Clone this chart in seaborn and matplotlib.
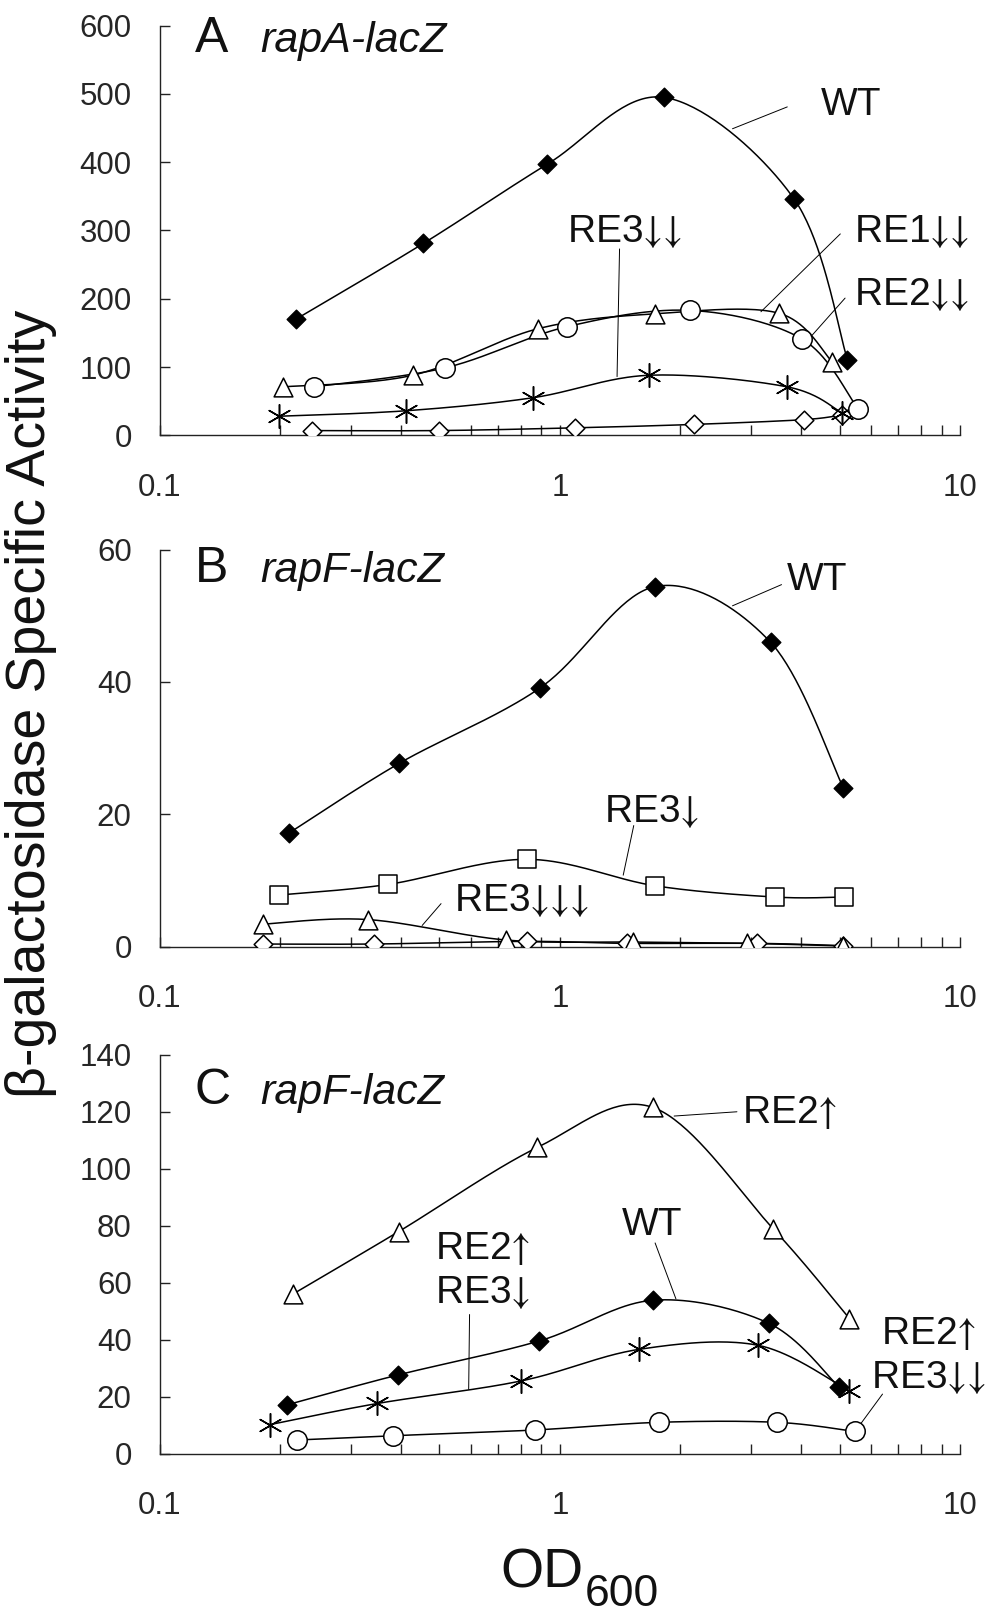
import numpy as np
import matplotlib
matplotlib.use("Agg")
import matplotlib.pyplot as plt
import seaborn as sns

sns.set_theme(style="white")
plt.rcParams["font.family"] = ["Liberation Sans", "DejaVu Sans"]
plt.rcParams["mathtext.fontset"] = "stix"

# ---------------- data ----------------
# Panel A: rapA-lacZ
A_wt_x = [0.219, 0.456, 0.93, 1.82, 3.85, 5.23]
A_wt_y = [170, 281, 397, 495, 346, 111]
A_re1_x = [0.204, 0.429, 0.88, 1.73, 3.52, 4.79]
A_re1_y = [71, 88, 156, 178, 179, 108]
A_re2_x = [0.243, 0.518, 1.04, 2.12, 4.03, 5.55]
A_re2_y = [71, 99, 159, 183, 141, 39]
A_re3_x = [0.199, 0.413, 0.855, 1.67, 3.70, 5.07]
A_re3_y = [28, 36, 55, 88, 71, 33]
A_ctl_x = [0.240, 0.499, 1.09, 2.16, 4.07, 5.07]
A_ctl_y = [7, 7, 11, 16, 23, 30]

# Panel B: rapF-lacZ
B_wt_x = [0.211, 0.397, 0.893, 1.73, 3.36, 5.11]
B_wt_y = [17.2, 27.7, 39.1, 54.4, 46.0, 24.0]
B_re3_x = [0.199, 0.372, 0.828, 1.73, 3.44, 5.13]
B_re3_y = [7.8, 9.4, 13.2, 9.2, 7.5, 7.5]
B_re3c_x = [0.181, 0.331, 0.735, 1.52, 2.94, 5.10]
B_re3c_y = [3.4, 4.1, 1.0, 0.7, 0.5, 0.1]
B_ctl_x = [0.181, 0.343, 0.827, 1.47, 3.11, 5.10]
B_ctl_y = [0.4, 0.4, 0.8, 0.5, 0.5, 0.15]

# Panel C: rapF-lacZ
C_re2_x = [0.215, 0.396, 0.879, 1.71, 3.41, 5.29]
C_re2_y = [56, 78, 107.5, 121.5, 79, 47.5]
C_wt_x = [0.208, 0.394, 0.887, 1.71, 3.33, 4.98]
C_wt_y = [17.2, 27.7, 39.6, 53.9, 45.8, 23.5]
C_r23_x = [0.189, 0.350, 0.800, 1.58, 3.13, 5.29]
C_r23_y = [10.3, 17.7, 25.6, 36.7, 38.1, 22.1]
C_r233_x = [0.221, 0.384, 0.865, 1.77, 3.48, 5.46]
C_r233_y = [4.9, 6.4, 8.4, 11.1, 11.1, 7.9]

x_major = [0.1, 1, 10]
x_major_labels = ["0.1", "1", "10"]
A_yticks = [0, 100, 200, 300, 400, 500, 600]
B_yticks = [0, 20, 40, 60]
C_yticks = [0, 20, 40, 60, 80, 100, 120, 140]

UP = "$\u2191$"
DN = "$\u2193$"

# ---------------- helpers ----------------
def smooth(x, y, n=40):
    """Excel-like smoothed line (cubic Bezier / Catmull-Rom) in log-x space."""
    P = np.column_stack([np.log10(x), np.asarray(y, float)])
    ext = np.vstack([P[0], P, P[-1]])
    t = np.linspace(0, 1, n, endpoint=False)[:, None]
    segs = []
    for i in range(len(P) - 1):
        p0, p1, p2, p3 = ext[i], ext[i + 1], ext[i + 2], ext[i + 3]
        c1 = p1 + (p2 - p0) / 6.0
        c2 = p2 - (p3 - p1) / 6.0
        segs.append((1 - t) ** 3 * p1 + 3 * (1 - t) ** 2 * t * c1
                    + 3 * (1 - t) * t ** 2 * c2 + t ** 3 * p2)
    segs.append(P[-1:])
    S = np.vstack(segs)
    return 10 ** S[:, 0], S[:, 1]


MK = {
    "fdiam": dict(marker="D", s=9.5 ** 2, color="black", edgecolor="black", linewidth=1),
    "odiam": dict(marker="D", s=9.5 ** 2, color="white", edgecolor="black", linewidth=1.1),
    "tri": dict(marker="^", s=13.5 ** 2, color="white", edgecolor="black", linewidth=1.1),
    "circ": dict(marker="o", s=14 ** 2, color="white", edgecolor="black", linewidth=1.1),
    "sq": dict(marker="s", s=12.5 ** 2, color="white", edgecolor="black", linewidth=1.1),
    "ast": dict(marker=(6, 2, 0), s=17 ** 2, color="black", linewidth=1.1),
}


def series(ax, x, y, kind):
    sx, sy = smooth(x, y)
    sns.lineplot(x=sx, y=sy, sort=False, estimator=None, ax=ax,
                 color="black", lw=1.1, zorder=2)
    sns.scatterplot(x=x, y=y, ax=ax, zorder=3, legend=False, **MK[kind])


def leader(ax, p, q):
    ax.plot([p[0], q[0]], [p[1], q[1]], color="black", lw=0.7, zorder=2)


LBL = 28


def label(ax, x, y, s):
    ax.text(x, y, s, ha="center", va="baseline", fontsize=LBL,
            color="#111111", clip_on=False, zorder=4)


def style_axis(ax, yticks, ytop):
    ax.set_xscale("log")
    ax.set_xlim(0.1, 10)
    ax.set_ylim(0, ytop)
    for sp in ["top", "right"]:
        ax.spines[sp].set_visible(False)
    for sp in ["left", "bottom"]:
        ax.spines[sp].set_color("#222222")
        ax.spines[sp].set_linewidth(1.0)
    ax.set_xticks(x_major)
    ax.set_xticklabels(x_major_labels)
    minors = [m * d for d in (0.1, 1) for m in range(2, 10)]
    ax.set_xticks(minors, minor=True)
    ax.set_xticklabels([], minor=True)
    ax.set_yticks(yticks)
    ax.set_yticklabels([str(v) for v in yticks])
    ax.tick_params(axis="x", which="both", direction="in", length=7, width=1,
                   color="#222222", labelsize=22.5, pad=27, bottom=True)
    ax.tick_params(axis="y", which="both", direction="in", length=7, width=1,
                   color="#222222", labelsize=22.5, pad=20, left=True)
    ax.set_xlabel("")
    ax.set_ylabel("")
    ax.grid(False)
    ax.set_facecolor("white")


def title(ax, letter, gene, yfrac):
    ax.text(0.044, yfrac, letter, transform=ax.transAxes, fontsize=36,
            va="baseline", ha="left", color="#111111")
    ax.text(0.1256, yfrac, gene, transform=ax.transAxes, fontsize=31,
            style="italic", va="baseline", ha="left", color="#111111")


# ---------------- figure ----------------
fig = plt.figure(figsize=(9.97, 16.13), dpi=100)
L, W = 0.160, 0.803
axA = fig.add_axes([L, 0.7301, W, 0.2540])
axB = fig.add_axes([L, 0.4131, W, 0.2462])
axC = fig.add_axes([L, 0.0986, W, 0.2475])

# Panel A
style_axis(axA, A_yticks, 600)
series(axA, A_ctl_x, A_ctl_y, "odiam")
series(axA, A_re3_x, A_re3_y, "ast")
series(axA, A_re2_x, A_re2_y, "circ")
series(axA, A_re1_x, A_re1_y, "tri")
series(axA, A_wt_x, A_wt_y, "fdiam")
title(axA, "A", "rapA-lacZ", 0.936)
label(axA, 5.34, 469, "WT")
leader(axA, (2.70, 449), (3.70, 481))
label(axA, 1.447, 283, "RE3" + DN + DN)
leader(axA, (1.41, 273), (1.39, 86))
label(axA, 7.54, 283, "RE1" + DN + DN)
leader(axA, (3.18, 181), (5.02, 295))
label(axA, 7.55, 191, "RE2" + DN + DN)
leader(axA, (4.23, 144), (5.16, 201))

# Panel B
style_axis(axB, B_yticks, 60)
series(axB, B_ctl_x, B_ctl_y, "odiam")
series(axB, B_re3c_x, B_re3c_y, "tri")
series(axB, B_re3_x, B_re3_y, "sq")
series(axB, B_wt_x, B_wt_y, "fdiam")
title(axB, "B", "rapF-lacZ", 0.918)
label(axB, 4.39, 53.9, "WT")
leader(axB, (2.70, 51.5), (3.58, 54.7))
label(axB, 1.70, 18.8, "RE3" + DN)
leader(axB, (1.53, 18.3), (1.44, 10.8))
label(axB, 0.80, 5.45, "RE3" + DN + DN + DN)
leader(axB, (0.505, 6.5), (0.453, 3.2))

# Panel C
style_axis(axC, C_yticks, 140)
series(axC, C_r233_x, C_r233_y, "circ")
series(axC, C_wt_x, C_wt_y, "fdiam")
series(axC, C_r23_x, C_r23_y, "ast")
series(axC, C_re2_x, C_re2_y, "tri")
title(axC, "C", "rapF-lacZ", 0.8765)
label(axC, 3.74, 115.9, "RE2" + UP)
leader(axC, (1.93, 118.5), (2.77, 120))
label(axC, 1.70, 76.9, "WT")
leader(axC, (1.73, 74), (1.95, 54.4))
label(axC, 0.641, 68.5, "RE2" + UP)
label(axC, 0.641, 52.8, "RE3" + DN)
leader(axC, (0.595, 48.9), (0.592, 22.7))
label(axC, 8.35, 38.5, "RE2" + UP)
label(axC, 8.35, 23.2, "RE3" + DN + DN)
leader(axC, (6.40, 21), (5.64, 10.5))

# shared axis titles
fig.text(0.031, 0.5638, "\u03b2-galactosidase Specific Activity", rotation=90,
         ha="center", va="center", fontsize=40, color="#111111")
fig.text(0.5848, 0.0155, "OD", ha="right", va="baseline", fontsize=40, color="#111111")
fig.text(0.5868, 0.0045, "600", ha="left", va="baseline", fontsize=32, color="#111111")

fig.savefig("out.png", dpi=100, facecolor="white")
